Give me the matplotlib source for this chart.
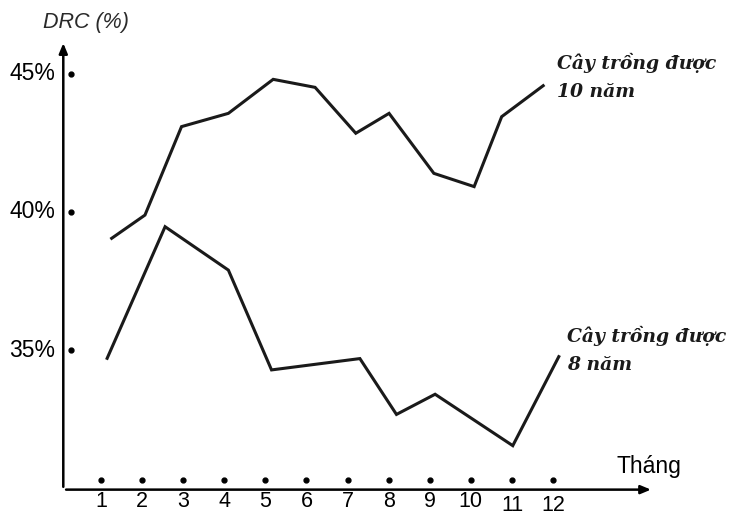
import matplotlib.pyplot as plt

# thang (x) va DRC % (y), doc tu hinh
months = list(range(1, 13))
x_10nam = [1.26, 2.07, 2.96, 4.10, 5.19, 6.21, 7.20, 8.01, 9.10, 10.08, 10.75, 11.76]
drc_10nam = [39.04, 39.88, 43.08, 43.56, 44.79, 44.50, 42.84, 43.56, 41.39, 40.91, 43.44, 44.56]
x_8nam = [1.15, 2.56, 4.10, 5.15, 7.30, 8.19, 9.13, 11.02, 12.14]
drc_8nam = [34.70, 39.46, 37.89, 34.28, 34.69, 32.67, 33.40, 31.54, 34.76]
y_ticks = [45, 40, 35]
y_labels = ["45%", "40%", "35%"]

fig = plt.figure(figsize=(7.31, 5.17), dpi=100)
ax = fig.add_axes([0, 0, 1, 1])
ax.set_xlim(-1.457, 16.33)
ax.set_ylim(28.96, 47.66)
ax.axis("off")

# truc toa do co mui ten
arrow = dict(arrowstyle="-|>,head_length=0.6,head_width=0.25", color="black", lw=1.8)
ax.annotate("", xy=(0.083, 46.2), xytext=(0.083, 29.95), arrowprops=arrow)
ax.annotate("", xy=(14.45, 29.95), xytext=(0.083, 29.95), arrowprops=arrow)

# cac cham danh dau
ax.plot([0.26] * len(y_ticks), y_ticks, "o", color="black", ms=3.5)
ax.plot(months, [30.31] * len(months), "o", color="black", ms=3.5)

for v, lab in zip(y_ticks, y_labels):
    ax.text(-0.12, v, lab, ha="right", va="center", fontsize=16.5, family="Liberation Sans")
for m in months:
    ypos = 29.19 if m >= 11 else 29.31
    ax.text(m, ypos, str(m), ha="center", va="baseline", fontsize=15.5, family="Liberation Sans")

ax.text(-0.41, 46.86, "DRC (%)", ha="left", va="center", fontsize=15.5,
        style="italic", color="#2a2a2a", family="Liberation Sans")
ax.text(13.55, 30.77, "Tháng", ha="left", va="center", fontsize=16.5, family="Liberation Sans")

ax.plot(x_10nam, drc_10nam, color="#1a1a1a", lw=2.2, solid_joinstyle="miter")
ax.plot(x_8nam, drc_8nam, color="#1a1a1a", lw=2.2, solid_joinstyle="miter")

lab_kw = dict(ha="left", va="baseline", fontsize=13.5, family="DejaVu Serif",
              weight="bold", style="italic", color="#1a1a1a")
ax.text(12.10, 45.16, "Cây trồng được", **lab_kw)
ax.text(12.10, 44.16, "10 năm", **lab_kw)
ax.text(12.34, 35.29, "Cây trồng được", **lab_kw)
ax.text(12.34, 34.28, "8 năm", **lab_kw)

fig.savefig("out.png", dpi=100)
